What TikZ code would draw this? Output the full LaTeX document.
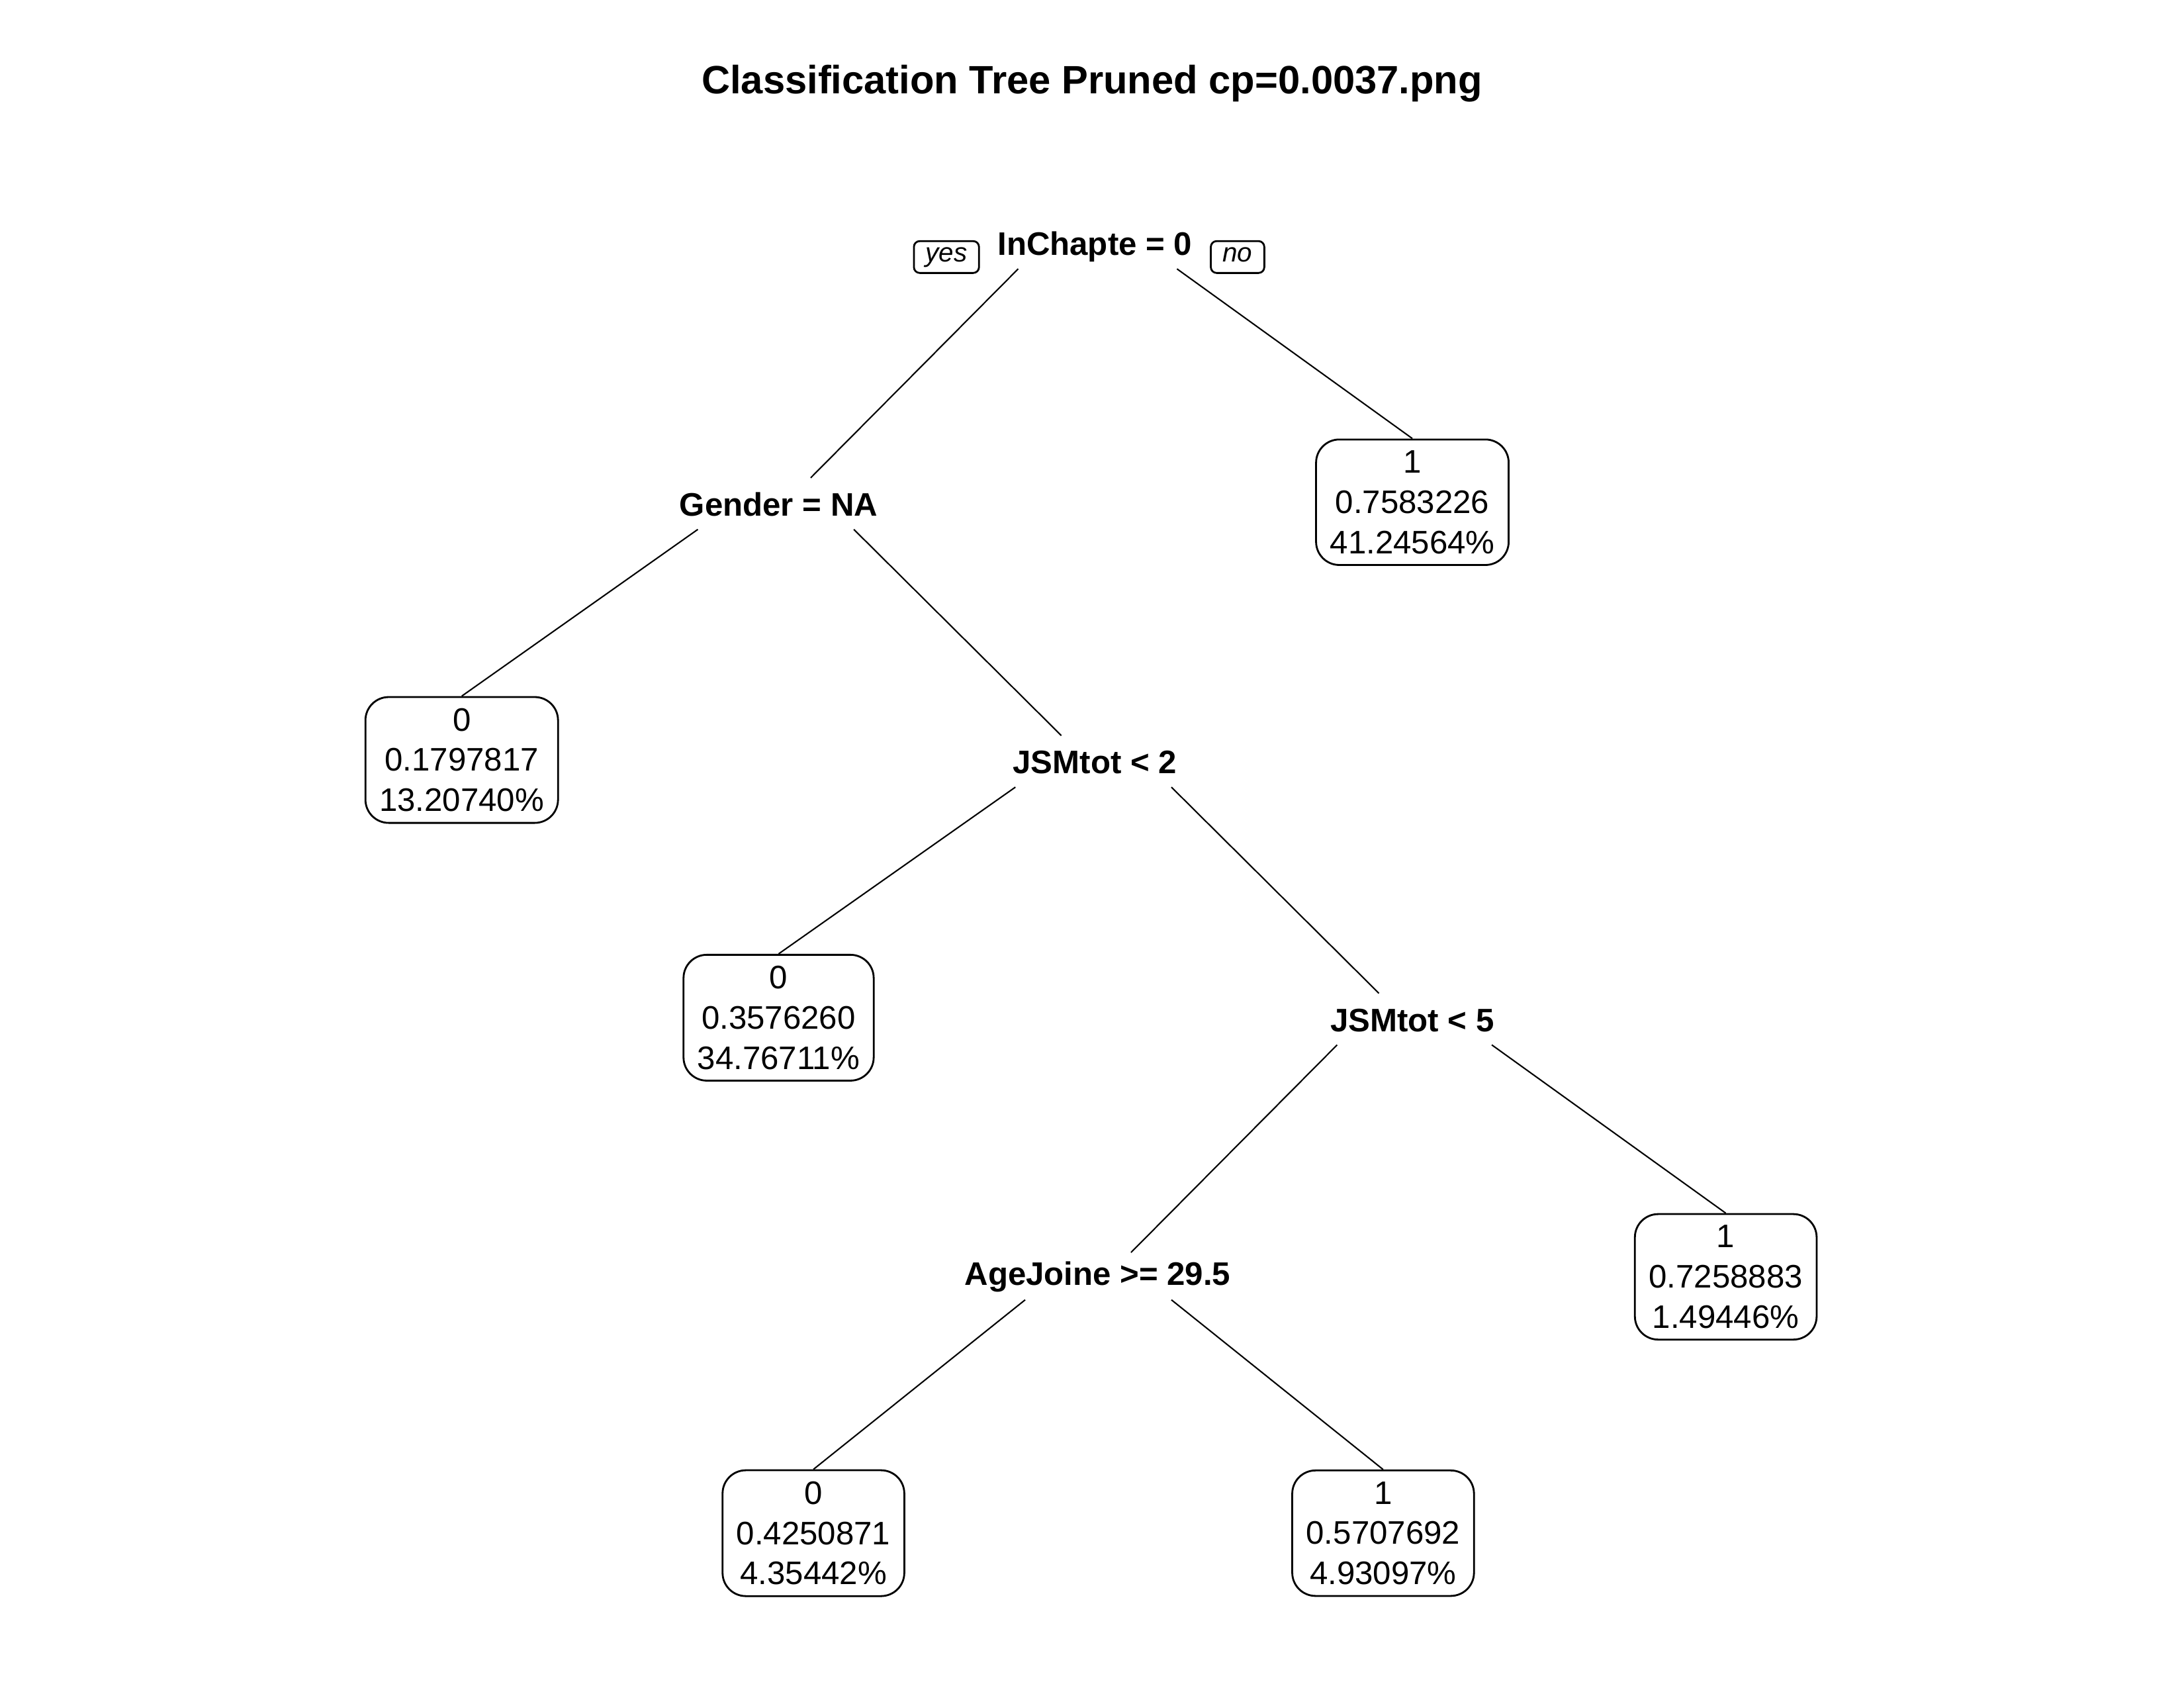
\documentclass[tikz,border=0pt]{standalone}
\usepackage{fontspec}
\setmainfont{Liberation Sans}
\usepackage{tikz}
\usetikzlibrary{calc}

\begin{document}
\begin{tikzpicture}[x=0.02105cm, y=-0.02105cm,
                    split/.style={font=\fontsize{14}{17}\selectfont\bfseries, inner sep=0pt, text height=10pt, text depth=0pt},
                    leaf/.style={draw, line width=0.8pt, rounded corners=10pt, align=center, inner xsep=6pt, inner ysep=4.8pt,
                                 font=\fontsize{14}{17.3}\selectfont},
                    yesno/.style={draw, line width=0.8pt, rounded corners=2.5pt, font=\fontsize{11.5}{13}\selectfont\itshape,
                                  text height=6.5pt, text depth=2.2pt, inner xsep=3pt, inner ysep=2.5pt},
                    branch/.style={line width=0.6pt}]
                    \useasboundingbox (0,0) rectangle (1568,1211.5);
                    \node (title) at (784,60) {\fontsize{17}{20}\selectfont\bfseries Classification Tree Pruned cp=0.0037.png};
                    % splits
                    \node[split] (inchapte) at (786,175) {InChapte = 0};
                    \node[yesno, minimum width=28pt] (yes) at (679.5,184.5) {yes};
                    \node[yesno, minimum width=23pt] (no) at (888.5,184.5) {no};
                    \node[split] (gender) at (559,362) {Gender = NA};
                    \node[split] (jsm2) at (786,547) {JSMtot < 2};
                    \node[split] (jsm5) at (1014,732) {JSMtot < 5};
                    \node[split] (agejoine) at (788,914) {AgeJoine >= 29.5};
                    % leaves
                    \node[leaf] (leafa) at (1014,360.5) {1\\0.7583226\\41.24564\%};
                    \node[leaf] (leafb) at (331.5,545.5) {0\\0.1797817\\13.20740\%};
                    \node[leaf] (leafc) at (559,730.5) {0\\0.3576260\\34.76711\%};
                    \node[leaf] (leafd) at (1239,916.5) {1\\0.7258883\\1.49446\%};
                    \node[leaf] (leafe) at (584,1100.5) {0\\0.4250871\\4.35442\%};
                    \node[leaf] (leaff) at (993,1100.5) {1\\0.5707692\\4.93097\%};
                    % branches
                    \draw [branch]($(inchapte)+(-55,18)$) -- ($(gender)+(23,-19)$);
                    \draw [branch]($(inchapte)+(59,18)$) -- (leafa.north);
                    \draw [branch]($(gender)+(-58,18)$) -- (leafb.north);
                    \draw [branch]($(gender)+(54,18)$) -- ($(jsm2)+(-24,-19)$);
                    \draw [branch]($(jsm2)+(-57,18)$) -- (leafc.north);
                    \draw [branch]($(jsm2)+(55,18)$) -- ($(jsm5)+(-24,-19)$);
                    \draw [branch]($(jsm5)+(-54,18)$) -- ($(agejoine)+(24,-15)$);
                    \draw [branch]($(jsm5)+(57,18)$) -- (leafd.north);
                    \draw [branch]($(agejoine)+(-52,19)$) -- (leafe.north);
                    \draw [branch]($(agejoine)+(53,19)$) -- (leaff.north);
                \end{tikzpicture}
\end{document}
